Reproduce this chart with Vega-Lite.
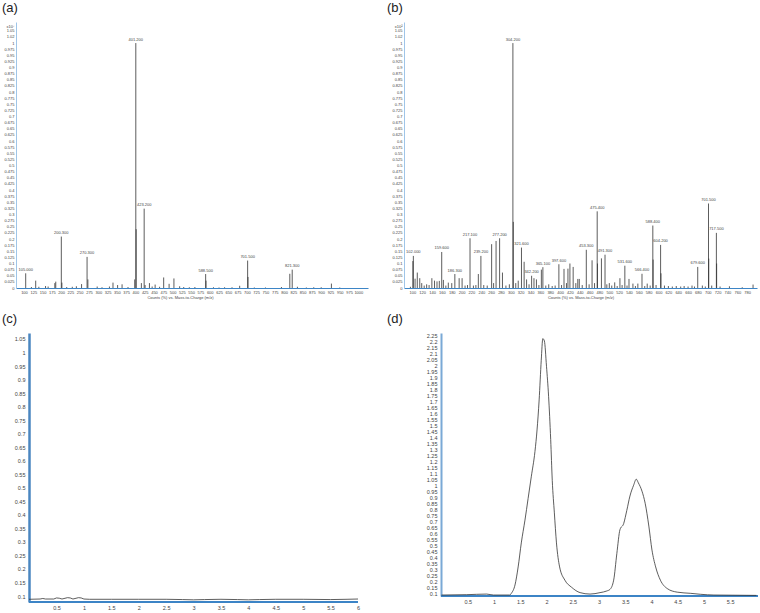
{
  "$schema": "https://vega.github.io/schema/vega-lite/v6.json",
  "padding": {"left": 2, "top": 2, "right": 0, "bottom": 0},
  "background": "white",
  "config": {
    "view": {"stroke": null},
    "font": "Liberation Sans",
    "title": {"fontSize": 13, "fontWeight": "normal", "anchor": "start", "frame": "group", "baseline": "bottom", "offset": 7, "color": "#222", "font": "Liberation Sans"},
    "axis": {"grid": false, "ticks": false, "labelFont": "Liberation Sans", "labelColor": "#444", "labelOverlap": false, "labelFlush": false, "titleFont": "Liberation Sans", "titleFontWeight": "normal", "titleColor": "#444"}
  },
  "datasets": {
    "peaksA": [
      {"mz": 104.6, "v": 0.06, "label": "105.000"}, {"mz": 120, "v": 0.004}, {"mz": 131.5, "v": 0.03}, {"mz": 140, "v": 0.005},
      {"mz": 158, "v": 0.008}, {"mz": 165, "v": 0.006}, {"mz": 183, "v": 0.02}, {"mz": 185.5, "v": 0.026},
      {"mz": 200.5, "v": 0.21, "label": "200.300"}, {"mz": 202, "v": 0.022}, {"mz": 215, "v": 0.004}, {"mz": 230, "v": 0.005},
      {"mz": 241, "v": 0.007}, {"mz": 255, "v": 0.016}, {"mz": 269.8, "v": 0.127, "label": "270.300"}, {"mz": 272, "v": 0.035},
      {"mz": 297, "v": 0.006}, {"mz": 310, "v": 0.003}, {"mz": 330, "v": 0.006}, {"mz": 339.6, "v": 0.022}, {"mz": 352, "v": 0.012},
      {"mz": 364, "v": 0.015}, {"mz": 380, "v": 0.004}, {"mz": 398, "v": 0.035}, {"mz": 401, "v": 1.0, "label": "401.200"},
      {"mz": 402, "v": 0.24}, {"mz": 416, "v": 0.02}, {"mz": 423.5, "v": 0.324, "label": "423.200"}, {"mz": 426, "v": 0.012},
      {"mz": 437.7, "v": 0.02}, {"mz": 445, "v": 0.006}, {"mz": 453, "v": 0.014}, {"mz": 465, "v": 0.005}, {"mz": 476, "v": 0.043},
      {"mz": 490.6, "v": 0.017}, {"mz": 503.6, "v": 0.039}, {"mz": 519, "v": 0.007}, {"mz": 530, "v": 0.004}, {"mz": 545, "v": 0.003},
      {"mz": 560, "v": 0.004}, {"mz": 589, "v": 0.057, "label": "588.500"}, {"mz": 590, "v": 0.03}, {"mz": 610, "v": 0.003},
      {"mz": 625, "v": 0.002}, {"mz": 640, "v": 0.003}, {"mz": 660, "v": 0.003}, {"mz": 680.6, "v": 0.009},
      {"mz": 702, "v": 0.112, "label": "701.500"}, {"mz": 703, "v": 0.045}, {"mz": 720, "v": 0.002}, {"mz": 750, "v": 0.002},
      {"mz": 793, "v": 0.004}, {"mz": 815.5, "v": 0.058}, {"mz": 822, "v": 0.075, "label": "821.300"}, {"mz": 836, "v": 0.005},
      {"mz": 860, "v": 0.002}, {"mz": 880, "v": 0.003}, {"mz": 900, "v": 0.003}, {"mz": 927.5, "v": 0.018}, {"mz": 950, "v": 0.002}
    ],
    "peaksB": [
      {"mz": 96, "v": 0.005}, {"mz": 101, "v": 0.11}, {"mz": 102, "v": 0.131, "label": "102.000"}, {"mz": 105.5, "v": 0.038},
      {"mz": 110, "v": 0.063}, {"mz": 115, "v": 0.04}, {"mz": 119, "v": 0.02}, {"mz": 124, "v": 0.01}, {"mz": 129, "v": 0.015},
      {"mz": 134, "v": 0.012}, {"mz": 139.6, "v": 0.04}, {"mz": 145, "v": 0.03}, {"mz": 150, "v": 0.027}, {"mz": 154.7, "v": 0.029},
      {"mz": 159.6, "v": 0.147, "label": "159.600"}, {"mz": 163, "v": 0.033}, {"mz": 168, "v": 0.01}, {"mz": 173, "v": 0.022},
      {"mz": 180, "v": 0.02}, {"mz": 186.3, "v": 0.057, "label": "186.300"}, {"mz": 195, "v": 0.04}, {"mz": 201, "v": 0.04},
      {"mz": 207, "v": 0.01}, {"mz": 212, "v": 0.012}, {"mz": 217.1, "v": 0.203, "label": "217.100"}, {"mz": 224, "v": 0.01},
      {"mz": 229, "v": 0.012}, {"mz": 234, "v": 0.057}, {"mz": 239.2, "v": 0.131, "label": "239.200"}, {"mz": 245, "v": 0.012},
      {"mz": 252, "v": 0.01}, {"mz": 261, "v": 0.179}, {"mz": 265, "v": 0.02}, {"mz": 270, "v": 0.192},
      {"mz": 277.2, "v": 0.203, "label": "277.200"}, {"mz": 283, "v": 0.063}, {"mz": 290, "v": 0.01}, {"mz": 297, "v": 0.015},
      {"mz": 304.2, "v": 1.0, "label": "304.200"}, {"mz": 305, "v": 0.27}, {"mz": 310, "v": 0.02}, {"mz": 315, "v": 0.03},
      {"mz": 321.6, "v": 0.165, "label": "321.600"}, {"mz": 327, "v": 0.107}, {"mz": 332, "v": 0.035}, {"mz": 337, "v": 0.015},
      {"mz": 342.2, "v": 0.05, "label": "342.200"}, {"mz": 347, "v": 0.04}, {"mz": 352, "v": 0.035}, {"mz": 357, "v": 0.012},
      {"mz": 362, "v": 0.075}, {"mz": 365.1, "v": 0.085, "label": "365.100"}, {"mz": 371, "v": 0.01}, {"mz": 377, "v": 0.015},
      {"mz": 384, "v": 0.008}, {"mz": 390, "v": 0.01}, {"mz": 397.6, "v": 0.097, "label": "397.600"}, {"mz": 403, "v": 0.012},
      {"mz": 408, "v": 0.078}, {"mz": 413, "v": 0.02}, {"mz": 416, "v": 0.079}, {"mz": 420, "v": 0.1}, {"mz": 426.6, "v": 0.086},
      {"mz": 432, "v": 0.02}, {"mz": 436, "v": 0.037}, {"mz": 439, "v": 0.037}, {"mz": 445, "v": 0.012},
      {"mz": 453.3, "v": 0.156, "label": "453.300"}, {"mz": 459, "v": 0.015}, {"mz": 465, "v": 0.113}, {"mz": 470, "v": 0.02},
      {"mz": 475.4, "v": 0.313, "label": "475.400"}, {"mz": 476, "v": 0.1}, {"mz": 484, "v": 0.121},
      {"mz": 491.3, "v": 0.136, "label": "491.300"}, {"mz": 495, "v": 0.015}, {"mz": 500, "v": 0.02}, {"mz": 505, "v": 0.01},
      {"mz": 511, "v": 0.023}, {"mz": 516, "v": 0.008}, {"mz": 521.6, "v": 0.04}, {"mz": 526, "v": 0.012},
      {"mz": 531.6, "v": 0.091, "label": "531.600"}, {"mz": 536, "v": 0.01}, {"mz": 540, "v": 0.037}, {"mz": 548, "v": 0.018},
      {"mz": 553, "v": 0.008}, {"mz": 558, "v": 0.018}, {"mz": 566.4, "v": 0.058, "label": "566.400"}, {"mz": 572, "v": 0.008},
      {"mz": 577, "v": 0.018}, {"mz": 583, "v": 0.01}, {"mz": 588.4, "v": 0.255, "label": "588.400"}, {"mz": 589, "v": 0.116},
      {"mz": 595, "v": 0.012}, {"mz": 604.2, "v": 0.176, "label": "604.200"}, {"mz": 605, "v": 0.06}, {"mz": 612, "v": 0.01},
      {"mz": 620, "v": 0.008}, {"mz": 628, "v": 0.006}, {"mz": 636, "v": 0.008}, {"mz": 645, "v": 0.006}, {"mz": 652, "v": 0.008},
      {"mz": 660, "v": 0.006}, {"mz": 668, "v": 0.01}, {"mz": 673, "v": 0.006}, {"mz": 679.6, "v": 0.086, "label": "679.600"},
      {"mz": 689, "v": 0.01}, {"mz": 695, "v": 0.006}, {"mz": 701.5, "v": 0.345, "label": "701.500"}, {"mz": 702, "v": 0.12},
      {"mz": 708, "v": 0.01}, {"mz": 717.5, "v": 0.225, "label": "717.500"}, {"mz": 718, "v": 0.1}, {"mz": 725, "v": 0.006},
      {"mz": 744, "v": 0.007}, {"mz": 770, "v": 0.003}, {"mz": 792, "v": 0.014}
    ],
    "lineC": [
      {"t": 0, "v": 0.088}, {"t": 0.2, "v": 0.089}, {"t": 0.25, "v": 0.091}, {"t": 0.3, "v": 0.089}, {"t": 0.45, "v": 0.089},
      {"t": 0.5, "v": 0.093}, {"t": 0.55, "v": 0.092}, {"t": 0.6, "v": 0.089}, {"t": 0.7, "v": 0.094}, {"t": 0.75, "v": 0.093},
      {"t": 0.8, "v": 0.089}, {"t": 0.9, "v": 0.094}, {"t": 0.95, "v": 0.093}, {"t": 1.0, "v": 0.089}, {"t": 1.1, "v": 0.088},
      {"t": 1.5, "v": 0.088}, {"t": 2.0, "v": 0.088}, {"t": 2.5, "v": 0.088}, {"t": 2.8, "v": 0.087}, {"t": 3.0, "v": 0.086},
      {"t": 3.2, "v": 0.087}, {"t": 3.5, "v": 0.088}, {"t": 3.8, "v": 0.087}, {"t": 4.0, "v": 0.086}, {"t": 4.2, "v": 0.087},
      {"t": 4.5, "v": 0.088}, {"t": 5.0, "v": 0.088}, {"t": 5.5, "v": 0.087}, {"t": 5.8, "v": 0.088}, {"t": 6.0, "v": 0.089}
    ],
    "lineD": [
      {"t": 0, "v": 0.086}, {"t": 0.48, "v": 0.089}, {"t": 0.67, "v": 0.092}, {"t": 0.86, "v": 0.094}, {"t": 0.99, "v": 0.086},
      {"t": 1.3, "v": 0.086}, {"t": 1.33, "v": 0.1}, {"t": 1.4, "v": 0.17}, {"t": 1.46, "v": 0.32}, {"t": 1.52, "v": 0.52},
      {"t": 1.59, "v": 0.71}, {"t": 1.65, "v": 0.89}, {"t": 1.71, "v": 1.07}, {"t": 1.78, "v": 1.28}, {"t": 1.82, "v": 1.46},
      {"t": 1.86, "v": 1.71}, {"t": 1.9, "v": 2.04}, {"t": 1.93, "v": 2.22}, {"t": 1.96, "v": 2.2}, {"t": 2.0, "v": 1.99},
      {"t": 2.04, "v": 1.74}, {"t": 2.08, "v": 1.38}, {"t": 2.11, "v": 1.04}, {"t": 2.15, "v": 0.77}, {"t": 2.19, "v": 0.52},
      {"t": 2.25, "v": 0.32}, {"t": 2.35, "v": 0.21}, {"t": 2.48, "v": 0.15}, {"t": 2.64, "v": 0.106}, {"t": 2.83, "v": 0.094},
      {"t": 3.02, "v": 0.106}, {"t": 3.15, "v": 0.12}, {"t": 3.21, "v": 0.133}, {"t": 3.28, "v": 0.21}, {"t": 3.34, "v": 0.43},
      {"t": 3.4, "v": 0.63}, {"t": 3.47, "v": 0.68}, {"t": 3.53, "v": 0.79}, {"t": 3.59, "v": 0.91}, {"t": 3.66, "v": 1.0},
      {"t": 3.71, "v": 1.05}, {"t": 3.75, "v": 1.02}, {"t": 3.82, "v": 0.95}, {"t": 3.88, "v": 0.85}, {"t": 3.95, "v": 0.66},
      {"t": 4.01, "v": 0.46}, {"t": 4.08, "v": 0.32}, {"t": 4.17, "v": 0.21}, {"t": 4.3, "v": 0.14}, {"t": 4.49, "v": 0.11},
      {"t": 4.75, "v": 0.1}, {"t": 4.94, "v": 0.092}, {"t": 5.19, "v": 0.086}, {"t": 6.0, "v": 0.083}
    ]
  },
  "columns": 2,
  "bounds": "flush",
  "spacing": {"row": 45, "column": 36},
  "concat": [
    {
      "title": {"text": "(a)", "dx": -14, "frame": "group", "anchor": "start"},
      "width": 352,
      "height": 266,
      "data": {"name": "peaksA"},
      "encoding": {
        "x": {"field": "mz", "type": "quantitative", "scale": {"domain": [78.5, 1026], "nice": false, "zero": false},
          "axis": {"values": [100,125,150,175,200,225,250,275,300,325,350,375,400,425,450,475,500,525,550,575,600,625,650,675,700,725,750,775,800,825,850,875,900,925,950,975,1000],
            "format": "d", "labelFontSize": 4, "labelPadding": 2, "labelOverlap": false, "title": "Counts (%) vs. Mass-to-Charge (m/z)", "titleFontSize": 4, "titlePadding": 1, "titleX": 164,
            "domainColor": "#3d85c6", "domainWidth": 1.2}},
        "y": {"field": "v", "type": "quantitative", "scale": {"domain": [0, 1.086], "nice": false},
          "axis": {"values": [0,0.025,0.05,0.075,0.1,0.125,0.15,0.175,0.2,0.225,0.25,0.275,0.3,0.325,0.35,0.375,0.4,0.425,0.45,0.475,0.5,0.525,0.55,0.575,0.6,0.625,0.65,0.675,0.7,0.725,0.75,0.775,0.8,0.825,0.85,0.875,0.9,0.925,0.95,0.975,1,1.025,1.05],
            "format": "~g", "labelFontSize": 4, "labelPadding": 2, "labelOverlap": false, "title": "x10⁷", "titleAngle": 0, "titleFontSize": 4, "titleAlign": "right", "titleBaseline": "middle", "titleX": -2, "titleY": 4,
            "domainColor": "#9fc5e8", "domainWidth": 1}}
      },
      "layer": [
        {"mark": {"type": "rule", "color": "#333", "strokeWidth": 0.8}, "encoding": {"y2": {"datum": 0}}},
        {
          "transform": [{"filter": "datum.label"}],
          "mark": {"type": "text", "fontSize": 4, "baseline": "bottom", "dy": -1.5, "color": "#444"},
          "encoding": {"text": {"field": "label"}}
        }
      ]
    },
    {
      "title": {"text": "(b)", "dx": -17, "frame": "group", "anchor": "start"},
      "width": 353,
      "height": 266,
      "data": {"name": "peaksB"},
      "encoding": {
        "x": {"field": "mz", "type": "quantitative", "scale": {"domain": [83, 800], "nice": false, "zero": false},
          "axis": {"values": [100,120,140,160,180,200,220,240,260,280,300,320,340,360,380,400,420,440,460,480,500,520,540,560,580,600,620,640,660,680,700,720,740,760,780],
            "format": "d", "labelFontSize": 4, "labelPadding": 2, "labelOverlap": false, "title": "Counts (%) vs. Mass-to-Charge (m/z)", "titleFontSize": 4, "titlePadding": 1,
            "domainColor": "#3d85c6", "domainWidth": 1.2}},
        "y": {"field": "v", "type": "quantitative", "scale": {"domain": [0, 1.086], "nice": false},
          "axis": {"values": [0,0.025,0.05,0.075,0.1,0.125,0.15,0.175,0.2,0.225,0.25,0.275,0.3,0.325,0.35,0.375,0.4,0.425,0.45,0.475,0.5,0.525,0.55,0.575,0.6,0.625,0.65,0.675,0.7,0.725,0.75,0.775,0.8,0.825,0.85,0.875,0.9,0.925,0.95,0.975,1,1.025,1.05],
            "format": "~g", "labelFontSize": 4, "labelPadding": 2, "labelOverlap": false, "title": "x10²", "titleAngle": 0, "titleFontSize": 4, "titleAlign": "right", "titleBaseline": "middle", "titleX": -2, "titleY": 4,
            "domainColor": "#9fc5e8", "domainWidth": 1}}
      },
      "layer": [
        {"mark": {"type": "rule", "color": "#333", "strokeWidth": 0.8}, "encoding": {"y2": {"datum": 0}}},
        {
          "transform": [{"filter": "datum.label"}],
          "mark": {"type": "text", "fontSize": 4, "baseline": "bottom", "dy": -1.5, "color": "#444"},
          "encoding": {"text": {"field": "label"}}
        }
      ]
    },
    {
      "title": {"text": "(c)", "dx": -14, "frame": "group", "anchor": "start"},
      "width": 342,
      "height": 269,
      "data": {"name": "lineC"},
      "layer": [
        {
          "mark": {"type": "rule", "color": "#3d85c6", "strokeWidth": 1.5},
          "encoding": {
            "x": {"datum": 0, "type": "quantitative", "scale": {"domain": [-0.239, 6], "nice": false, "zero": false},
              "axis": {"values": [0.5,1,1.5,2,2.5,3,3.5,4,4.5,5,5.5,6], "format": "~g", "labelFontSize": 5.5, "labelPadding": 3, "title": null, "domain": false}},
            "x2": {"datum": 6},
            "y": {"datum": 0.078, "type": "quantitative", "scale": {"domain": [0.078, 1.072], "nice": false, "zero": false},
              "axis": {"values": [0.1,0.15,0.2,0.25,0.3,0.35,0.4,0.45,0.5,0.55,0.6,0.65,0.7,0.75,0.8,0.85,0.9,0.95,1,1.05], "format": "~g", "labelFontSize": 5.5, "labelPadding": 4, "title": null, "offset": -13,
                "domainColor": "#4a86c0", "domainWidth": 2.5}}
          }
        },
        {
          "mark": {"type": "line", "color": "#333", "strokeWidth": 0.8},
          "encoding": {
            "x": {"field": "t", "type": "quantitative", "scale": {"domain": [-0.239, 6], "nice": false, "zero": false},
              "axis": {"values": [0.5,1,1.5,2,2.5,3,3.5,4,4.5,5,5.5,6], "format": "~g", "labelFontSize": 5.5, "labelPadding": 3, "title": null, "domain": false}},
            "y": {"field": "v", "type": "quantitative", "scale": {"domain": [0.078, 1.072], "nice": false, "zero": false},
              "axis": {"values": [0.1,0.15,0.2,0.25,0.3,0.35,0.4,0.45,0.5,0.55,0.6,0.65,0.7,0.75,0.8,0.85,0.9,0.95,1,1.05], "format": "~g", "labelFontSize": 5.5, "labelPadding": 4, "title": null, "offset": -13,
                "domainColor": "#4a86c0", "domainWidth": 2.5}}
          }
        }
      ]
    },
    {
      "title": {"text": "(d)", "dx": -17, "frame": "group", "anchor": "start"},
      "width": 354,
      "height": 263,
      "data": {"name": "lineD"},
      "layer": [
        {
          "mark": {"type": "rule", "color": "#3d85c6", "strokeWidth": 1.5},
          "encoding": {
            "x": {"datum": 0, "type": "quantitative", "scale": {"domain": [-0.715, 6.03], "nice": false, "zero": false},
              "axis": {"values": [0.5,1,1.5,2,2.5,3,3.5,4,4.5,5,5.5], "format": "~g", "labelFontSize": 5.5, "labelPadding": 3, "title": null, "domain": false}},
            "x2": {"datum": 6.03},
            "y": {"datum": 0.078, "type": "quantitative", "scale": {"domain": [0.078, 2.267], "nice": false, "zero": false},
              "axis": {"values": [0.1,0.15,0.2,0.25,0.3,0.35,0.4,0.45,0.5,0.55,0.6,0.65,0.7,0.75,0.8,0.85,0.9,0.95,1,1.05,1.1,1.15,1.2,1.25,1.3,1.35,1.4,1.45,1.5,1.55,1.6,1.65,1.7,1.75,1.8,1.85,1.9,1.95,2,2.05,2.1,2.15,2.2,2.25], "format": "~g", "labelFontSize": 5.5, "labelPadding": 4, "title": null, "offset": -37,
                "domainColor": "#7aa9d6", "domainWidth": 2}}
          }
        },
        {
          "mark": {"type": "line", "color": "#333", "strokeWidth": 0.8, "interpolate": "monotone"},
          "encoding": {
            "x": {"field": "t", "type": "quantitative", "scale": {"domain": [-0.715, 6.03], "nice": false, "zero": false},
              "axis": {"values": [0.5,1,1.5,2,2.5,3,3.5,4,4.5,5,5.5], "format": "~g", "labelFontSize": 5.5, "labelPadding": 3, "title": null, "domain": false}},
            "y": {"field": "v", "type": "quantitative", "scale": {"domain": [0.078, 2.267], "nice": false, "zero": false},
              "axis": {"values": [0.1,0.15,0.2,0.25,0.3,0.35,0.4,0.45,0.5,0.55,0.6,0.65,0.7,0.75,0.8,0.85,0.9,0.95,1,1.05,1.1,1.15,1.2,1.25,1.3,1.35,1.4,1.45,1.5,1.55,1.6,1.65,1.7,1.75,1.8,1.85,1.9,1.95,2,2.05,2.1,2.15,2.2,2.25], "format": "~g", "labelFontSize": 5.5, "labelPadding": 4, "title": null, "offset": -37,
                "domainColor": "#7aa9d6", "domainWidth": 2}}
          }
        }
      ]
    }
  ]
}
